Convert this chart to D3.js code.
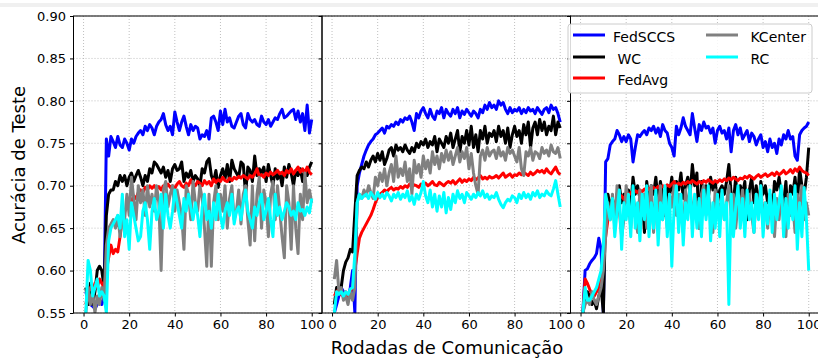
<!DOCTYPE html>
<html>
<head>
<meta charset="utf-8">
<script src="https://cdn.jsdelivr.net/npm/d3@7"></script>
<style>
  body { margin: 0; background: #fff; }
  svg { display: block; font-family: "DejaVu Sans", sans-serif; }
  .legend text { white-space: pre; }
</style>
</head>
<body>
<svg id="chart" width="818" height="358"></svg>
<script>
// rounds 1..100
const rounds = d3.range(1, 101);
const xTicks = [0, 20, 40, 60, 80, 100];
const yTicks = [0.55, 0.60, 0.65, 0.70, 0.75, 0.80, 0.85, 0.90];
const seriesNames = ['FedSCCS', 'WC', 'FedAvg', 'KCenter', 'RC'];
const legendLabels = ['FedSCCS', ' WC', ' FedAvg', ' KCenter', ' RC'];
const seriesColors = ['#0000ff', '#000000', '#ff0000', '#808080', '#00ffff'];

// panel 1
const p1FedSCCS = [0.575,0.565,0.560,0.558,0.555,0.560,0.565,0.560,0.570,0.755,
  0.735,0.758,0.752,0.745,0.758,0.748,0.745,0.755,0.750,0.742,
  0.755,0.750,0.758,0.762,0.765,0.760,0.770,0.765,0.772,0.768,
  0.760,0.770,0.775,0.778,0.785,0.772,0.765,0.770,0.760,0.787,
  0.775,0.765,0.775,0.782,0.770,0.760,0.772,0.765,0.770,0.768,
  0.755,0.760,0.758,0.765,0.755,0.780,0.782,0.775,0.765,0.788,
  0.772,0.790,0.775,0.780,0.770,0.768,0.775,0.782,0.785,0.772,
  0.768,0.785,0.778,0.775,0.778,0.772,0.770,0.782,0.775,0.772,
  0.778,0.770,0.775,0.780,0.778,0.785,0.790,0.780,0.782,0.785,
  0.788,0.790,0.778,0.788,0.775,0.785,0.765,0.795,0.762,0.778];
const p1WC = [0.580,0.560,0.585,0.560,0.575,0.600,0.605,0.600,0.580,0.665,
  0.690,0.695,0.695,0.705,0.700,0.712,0.705,0.712,0.700,0.710,
  0.715,0.705,0.712,0.718,0.710,0.700,0.712,0.705,0.720,0.715,
  0.728,0.725,0.720,0.715,0.722,0.710,0.718,0.705,0.720,0.725,
  0.718,0.720,0.728,0.705,0.715,0.710,0.718,0.705,0.712,0.708,
  0.700,0.720,0.715,0.728,0.732,0.712,0.705,0.718,0.698,0.712,
  0.720,0.708,0.725,0.705,0.730,0.720,0.715,0.710,0.728,0.725,
  0.690,0.722,0.718,0.705,0.735,0.712,0.720,0.715,0.722,0.705,
  0.725,0.712,0.700,0.720,0.708,0.715,0.700,0.722,0.710,0.725,
  0.715,0.700,0.718,0.712,0.720,0.705,0.718,0.712,0.722,0.728];
const p1FedAvg = [0.560,0.575,0.580,0.575,0.585,0.580,0.590,0.585,0.580,0.600,
  0.615,0.630,0.620,0.625,0.622,0.640,0.660,0.670,0.675,0.680,
  0.682,0.688,0.685,0.692,0.695,0.692,0.698,0.695,0.700,0.697,
  0.700,0.696,0.699,0.695,0.700,0.698,0.702,0.698,0.700,0.697,
  0.702,0.705,0.700,0.698,0.703,0.700,0.707,0.702,0.700,0.705,
  0.703,0.700,0.706,0.702,0.705,0.700,0.708,0.704,0.707,0.705,
  0.710,0.706,0.705,0.709,0.706,0.710,0.708,0.711,0.709,0.712,
  0.710,0.708,0.712,0.710,0.714,0.720,0.711,0.713,0.710,0.715,
  0.712,0.716,0.713,0.715,0.718,0.714,0.716,0.712,0.718,0.715,
  0.720,0.714,0.718,0.722,0.716,0.720,0.715,0.722,0.716,0.713];
const p1KCenter = [0.550,0.580,0.560,0.575,0.550,0.570,0.560,0.580,0.565,0.630,
  0.650,0.655,0.660,0.650,0.665,0.640,0.670,0.660,0.690,0.665,
  0.710,0.685,0.660,0.700,0.680,0.695,0.665,0.700,0.675,0.690,
  0.670,0.700,0.680,0.600,0.695,0.705,0.675,0.690,0.700,0.670,
  0.695,0.680,0.665,0.625,0.700,0.690,0.660,0.705,0.680,0.670,
  0.700,0.685,0.650,0.605,0.690,0.605,0.680,0.700,0.660,0.690,
  0.670,0.700,0.650,0.685,0.700,0.660,0.670,0.695,0.655,0.690,
  0.700,0.660,0.630,0.700,0.635,0.690,0.710,0.650,0.695,0.680,
  0.640,0.690,0.705,0.660,0.700,0.670,0.640,0.615,0.700,0.680,
  0.625,0.700,0.650,0.620,0.690,0.660,0.715,0.680,0.695,0.680];
const p1RC = [0.550,0.612,0.600,0.570,0.580,0.590,0.570,0.575,0.570,0.550,
  0.635,0.650,0.655,0.660,0.665,0.650,0.690,0.640,0.660,0.625,
  0.680,0.665,0.650,0.635,0.640,0.670,0.680,0.660,0.625,0.670,
  0.685,0.660,0.670,0.690,0.650,0.690,0.665,0.650,0.670,0.695,
  0.680,0.665,0.650,0.685,0.670,0.690,0.675,0.660,0.680,0.665,
  0.640,0.675,0.690,0.660,0.670,0.650,0.680,0.660,0.690,0.665,
  0.650,0.670,0.680,0.665,0.690,0.655,0.670,0.675,0.660,0.680,
  0.695,0.670,0.660,0.650,0.675,0.665,0.680,0.690,0.660,0.670,
  0.685,0.660,0.640,0.690,0.665,0.675,0.660,0.670,0.680,0.675,
  0.665,0.670,0.660,0.680,0.670,0.672,0.665,0.675,0.668,0.685];

// panel 2
const p2FedSCCS = [0.550,0.560,0.570,0.580,0.575,0.570,0.565,0.580,0.600,0.550,
  0.700,0.715,0.725,0.735,0.742,0.748,0.752,0.755,0.760,0.762,
  0.765,0.768,0.762,0.770,0.768,0.772,0.770,0.775,0.772,0.778,
  0.775,0.780,0.778,0.782,0.775,0.765,0.785,0.780,0.788,0.792,
  0.785,0.780,0.790,0.782,0.778,0.788,0.785,0.792,0.780,0.790,
  0.785,0.782,0.790,0.785,0.792,0.780,0.788,0.784,0.790,0.786,
  0.782,0.788,0.785,0.780,0.790,0.786,0.795,0.790,0.798,0.792,
  0.795,0.790,0.800,0.795,0.798,0.790,0.785,0.792,0.786,0.790,
  0.788,0.792,0.785,0.790,0.786,0.792,0.788,0.790,0.785,0.792,
  0.788,0.784,0.790,0.792,0.786,0.795,0.790,0.792,0.785,0.775];
const p2WC = [0.560,0.580,0.575,0.580,0.600,0.610,0.615,0.625,0.622,0.668,
  0.712,0.718,0.722,0.720,0.728,0.722,0.730,0.735,0.728,0.738,
  0.730,0.740,0.725,0.732,0.742,0.745,0.735,0.748,0.742,0.745,
  0.740,0.748,0.742,0.738,0.745,0.740,0.750,0.745,0.752,0.748,
  0.755,0.745,0.752,0.748,0.758,0.740,0.755,0.750,0.745,0.758,
  0.750,0.762,0.745,0.755,0.765,0.740,0.758,0.750,0.765,0.748,
  0.770,0.745,0.760,0.740,0.765,0.755,0.770,0.750,0.762,0.758,
  0.765,0.752,0.770,0.758,0.765,0.750,0.768,0.745,0.760,0.770,
  0.758,0.765,0.750,0.772,0.760,0.775,0.745,0.768,0.775,0.760,
  0.778,0.765,0.775,0.760,0.770,0.765,0.782,0.760,0.775,0.768];
const p2FedAvg = [0.570,0.575,0.578,0.572,0.570,0.575,0.568,0.575,0.580,0.600,
  0.620,0.638,0.645,0.650,0.655,0.660,0.665,0.672,0.680,0.686,
  0.690,0.692,0.695,0.693,0.696,0.698,0.695,0.697,0.696,0.699,
  0.697,0.700,0.698,0.702,0.699,0.701,0.700,0.698,0.702,0.700,
  0.703,0.700,0.702,0.705,0.701,0.700,0.704,0.702,0.700,0.703,
  0.705,0.703,0.706,0.702,0.705,0.708,0.704,0.707,0.705,0.708,
  0.706,0.710,0.707,0.709,0.712,0.708,0.710,0.708,0.711,0.709,
  0.710,0.712,0.709,0.712,0.715,0.710,0.712,0.714,0.710,0.713,
  0.712,0.715,0.713,0.716,0.714,0.712,0.716,0.713,0.715,0.718,
  0.716,0.718,0.715,0.720,0.716,0.714,0.718,0.722,0.716,0.713];
const p2KCenter = [0.590,0.612,0.575,0.580,0.565,0.570,0.560,0.575,0.565,0.580,
  0.680,0.690,0.685,0.695,0.688,0.700,0.692,0.685,0.710,0.700,
  0.715,0.705,0.720,0.700,0.715,0.725,0.705,0.735,0.710,0.720,
  0.712,0.728,0.705,0.720,0.690,0.730,0.715,0.725,0.710,0.735,
  0.720,0.730,0.715,0.740,0.725,0.735,0.720,0.738,0.728,0.742,
  0.730,0.740,0.725,0.735,0.745,0.728,0.740,0.732,0.745,0.720,
  0.738,0.715,0.700,0.690,0.735,0.742,0.730,0.745,0.735,0.740,
  0.742,0.732,0.745,0.735,0.740,0.730,0.745,0.738,0.742,0.735,
  0.728,0.745,0.720,0.712,0.740,0.735,0.745,0.730,0.740,0.738,
  0.732,0.745,0.738,0.742,0.735,0.748,0.740,0.738,0.745,0.732];
const p2RC = [0.550,0.575,0.572,0.575,0.570,0.575,0.572,0.578,0.580,0.620,
  0.680,0.690,0.685,0.688,0.690,0.685,0.692,0.688,0.684,0.692,
  0.686,0.690,0.685,0.692,0.688,0.682,0.690,0.686,0.692,0.684,
  0.690,0.686,0.694,0.682,0.688,0.678,0.690,0.684,0.692,0.705,
  0.688,0.680,0.695,0.675,0.690,0.670,0.688,0.675,0.692,0.668,
  0.686,0.672,0.690,0.680,0.694,0.685,0.690,0.680,0.692,0.688,
  0.684,0.690,0.686,0.692,0.688,0.694,0.686,0.690,0.684,0.688,
  0.686,0.692,0.684,0.678,0.674,0.680,0.684,0.682,0.688,0.686,
  0.680,0.690,0.685,0.692,0.686,0.690,0.684,0.692,0.688,0.694,
  0.686,0.690,0.688,0.694,0.690,0.688,0.696,0.706,0.690,0.675];

// panel 3
const p3FedSCCS = [0.550,0.600,0.602,0.608,0.612,0.615,0.620,0.638,0.625,0.550,
  0.728,0.732,0.748,0.752,0.755,0.765,0.760,0.752,0.758,0.752,
  0.760,0.755,0.728,0.745,0.760,0.758,0.762,0.765,0.760,0.768,
  0.765,0.770,0.762,0.768,0.758,0.772,0.765,0.762,0.750,0.745,
  0.735,0.770,0.760,0.768,0.780,0.770,0.765,0.760,0.785,0.768,
  0.752,0.772,0.765,0.775,0.768,0.770,0.762,0.768,0.750,0.765,
  0.770,0.762,0.765,0.755,0.768,0.740,0.765,0.772,0.760,0.768,
  0.755,0.760,0.765,0.752,0.762,0.758,0.748,0.755,0.760,0.745,
  0.752,0.740,0.755,0.745,0.750,0.738,0.755,0.748,0.760,0.755,
  0.765,0.755,0.758,0.735,0.730,0.760,0.765,0.768,0.770,0.775];
const p3WC = [0.550,0.565,0.575,0.570,0.560,0.565,0.555,0.570,0.580,0.550,
  0.670,0.690,0.675,0.685,0.665,0.690,0.700,0.680,0.690,0.670,
  0.695,0.675,0.710,0.690,0.700,0.685,0.690,0.645,0.705,0.680,
  0.700,0.690,0.710,0.680,0.705,0.690,0.665,0.700,0.690,0.710,
  0.680,0.705,0.695,0.715,0.685,0.700,0.710,0.690,0.725,0.700,
  0.715,0.650,0.705,0.690,0.700,0.685,0.710,0.695,0.705,0.680,
  0.695,0.700,0.690,0.705,0.725,0.690,0.680,0.710,0.670,0.700,
  0.690,0.705,0.660,0.695,0.710,0.680,0.700,0.670,0.705,0.690,
  0.700,0.680,0.690,0.665,0.705,0.695,0.710,0.690,0.680,0.705,
  0.660,0.700,0.690,0.710,0.680,0.720,0.700,0.690,0.710,0.745];
const p3FedAvg = [0.550,0.590,0.585,0.578,0.572,0.570,0.575,0.580,0.595,0.620,
  0.640,0.660,0.672,0.678,0.680,0.682,0.685,0.688,0.684,0.690,
  0.688,0.692,0.690,0.694,0.692,0.695,0.693,0.696,0.694,0.697,
  0.695,0.698,0.696,0.699,0.697,0.700,0.698,0.701,0.699,0.702,
  0.705,0.700,0.703,0.701,0.704,0.702,0.705,0.703,0.706,0.704,
  0.702,0.705,0.703,0.706,0.704,0.707,0.705,0.703,0.706,0.704,
  0.707,0.705,0.708,0.706,0.709,0.707,0.710,0.708,0.706,0.709,
  0.708,0.711,0.709,0.712,0.710,0.708,0.711,0.713,0.710,0.712,
  0.714,0.711,0.713,0.715,0.712,0.716,0.713,0.715,0.718,0.714,
  0.716,0.719,0.715,0.720,0.717,0.722,0.718,0.716,0.715,0.712];
const p3KCenter = [0.550,0.560,0.565,0.560,0.575,0.565,0.560,0.570,0.580,0.600,
  0.640,0.680,0.660,0.690,0.650,0.700,0.670,0.640,0.660,0.700,
  0.680,0.650,0.690,0.670,0.645,0.695,0.665,0.690,0.650,0.680,
  0.700,0.645,0.690,0.670,0.700,0.660,0.685,0.650,0.690,0.675,
  0.700,0.665,0.690,0.680,0.645,0.695,0.670,0.700,0.660,0.685,
  0.680,0.650,0.690,0.700,0.665,0.690,0.670,0.645,0.695,0.680,
  0.670,0.690,0.660,0.680,0.700,0.665,0.690,0.650,0.680,0.670,
  0.695,0.660,0.680,0.690,0.665,0.645,0.690,0.670,0.700,0.660,
  0.680,0.650,0.690,0.670,0.640,0.685,0.660,0.690,0.675,0.640,
  0.690,0.665,0.680,0.645,0.690,0.670,0.700,0.660,0.680,0.665];
const p3RC = [0.550,0.580,0.565,0.565,0.570,0.575,0.580,0.590,0.600,0.630,
  0.690,0.675,0.660,0.685,0.640,0.670,0.695,0.625,0.680,0.660,
  0.690,0.640,0.700,0.650,0.680,0.635,0.690,0.660,0.700,0.640,
  0.680,0.650,0.695,0.630,0.680,0.660,0.700,0.640,0.690,0.605,
  0.675,0.700,0.645,0.690,0.630,0.680,0.660,0.700,0.640,0.690,
  0.650,0.685,0.640,0.695,0.660,0.700,0.635,0.680,0.650,0.690,
  0.640,0.695,0.660,0.680,0.560,0.690,0.640,0.675,0.700,0.650,
  0.685,0.640,0.695,0.660,0.680,0.645,0.690,0.660,0.700,0.640,
  0.680,0.655,0.695,0.645,0.690,0.660,0.680,0.700,0.640,0.685,
  0.650,0.690,0.660,0.700,0.625,0.680,0.640,0.698,0.660,0.600];

const panels = [
  [p1FedSCCS, p1WC, p1FedAvg, p1KCenter, p1RC],
  [p2FedSCCS, p2WC, p2FedAvg, p2KCenter, p2RC],
  [p3FedSCCS, p3WC, p3FedAvg, p3KCenter, p3RC],
];

const svg = d3.select('#chart');
const plotTop = 16, plotBottom = 313, panelW = 248.5;
const panelLefts = [73.5, 322, 570.5];

// faint strip along the top edge
svg.append('rect').attr('x', 0).attr('y', 3).attr('width', 818).attr('height', 4).attr('fill', '#f0f0f0');

const y = d3.scaleLinear().domain([0.55, 0.90]).range([plotBottom, plotTop]);

panels.forEach((series, pi) => {
  const left = panelLefts[pi];
  const x = d3.scaleLinear().domain([-4.4, 104.5]).range([left, left + panelW]);
  const g = svg.append('g');

  // grid
  g.append('g').selectAll('line').data(xTicks).enter().append('line')
    .attr('x1', d => x(d)).attr('x2', d => x(d)).attr('y1', plotTop).attr('y2', plotBottom)
    .attr('stroke', '#b0b0b0').attr('stroke-width', 0.8).attr('stroke-dasharray', '1,2');
  g.append('g').selectAll('line').data(yTicks).enter().append('line')
    .attr('x1', left).attr('x2', left + panelW).attr('y1', d => y(d)).attr('y2', d => y(d))
    .attr('stroke', '#b0b0b0').attr('stroke-width', 0.8).attr('stroke-dasharray', '1,2');

  const clipId = 'clip' + pi;
  svg.append('clipPath').attr('id', clipId).append('rect')
    .attr('x', left).attr('y', plotTop).attr('width', panelW).attr('height', plotBottom - plotTop);

  const line = d3.line().x((d, i) => x(rounds[i])).y(d => y(d));
  g.append('g').attr('clip-path', `url(#${clipId})`)
    .selectAll('path').data(series).enter().append('path')
    .attr('d', d => line(d))
    .attr('fill', 'none')
    .attr('stroke', (d, i) => seriesColors[i])
    .attr('stroke-width', 3)
    .attr('stroke-linejoin', 'round');

  // axes
  g.append('g').attr('transform', `translate(0,${plotBottom})`)
    .call(d3.axisBottom(x).tickValues(xTicks).tickSize(3.5).tickPadding(3).tickFormat(d3.format('d')))
    .call(a => a.select('.domain').remove())
    .call(a => a.selectAll('text').attr('font-size', 13).attr('fill', '#000').attr('font-family', 'DejaVu Sans'));
  g.append('g').attr('transform', `translate(${left},0)`)
    .call(d3.axisLeft(y).tickValues(yTicks).tickSize(3.5).tickPadding(4).tickFormat(pi === 0 ? d3.format('.2f') : () => ''))
    .call(a => a.select('.domain').remove())
    .call(a => a.selectAll('text').attr('font-size', 13).attr('fill', '#000').attr('font-family', 'DejaVu Sans'));

  g.append('rect').attr('x', left).attr('y', plotTop).attr('width', panelW).attr('height', plotBottom - plotTop)
    .attr('fill', 'none').attr('stroke', '#000').attr('stroke-width', 1);
});

// axis titles
svg.append('text').attr('x', 447).attr('y', 354).attr('text-anchor', 'middle')
  .attr('font-size', 18).text('Rodadas de Comunicação');
svg.append('text').attr('transform', 'translate(25,165) rotate(-90)').attr('text-anchor', 'middle')
  .attr('font-size', 18).text('Acurácia de Teste');

// legend
const leg = svg.append('g').attr('class', 'legend');
leg.append('rect').attr('x', 568).attr('y', 24).attr('width', 244).attr('height', 69).attr('rx', 3)
  .attr('fill', 'rgba(255,255,255,0.85)').attr('stroke', '#cccccc');
const legPos = [[573, 35], [573, 57], [573, 78], [706, 35], [706, 57]];
seriesNames.forEach((name, i) => {
  const [lx, ly] = legPos[i];
  leg.append('line').attr('x1', lx).attr('x2', lx + 32).attr('y1', ly).attr('y2', ly)
    .attr('stroke', seriesColors[i]).attr('stroke-width', 3);
  leg.append('text').attr('x', lx + 40).attr('y', ly + 7).attr('font-size', 14)
    .attr('xml:space', 'preserve').text(legendLabels[i]);
});
</script>
</body>
</html>
